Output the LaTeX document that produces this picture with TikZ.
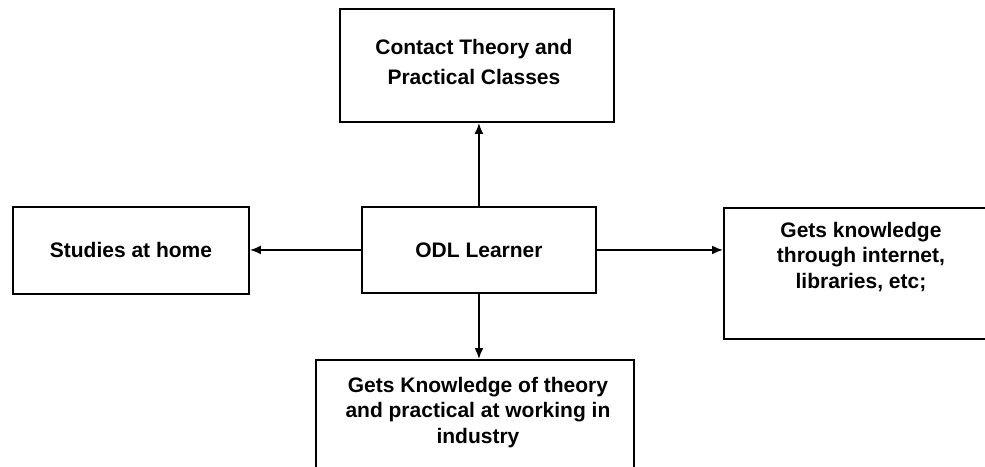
\documentclass[tikz,border=0pt]{standalone}
\usepackage{fontspec}
\setmainfont{Liberation Sans}
\usetikzlibrary{positioning,arrows.meta}

\begin{document}
\begin{tikzpicture}[
x=1pt,y=-1pt,
box/.style={
  draw,
  line width=1.9pt,
  inner sep=0pt,
  anchor=north west,
  align=center,
  font=\bfseries\fontsize{21}{25.5}\selectfont
  },
boxtext/.style={
  inner sep=0pt,
  align=center,
  font=\bfseries\fontsize{21}{25.5}\selectfont
  },
link/.style={
  -{Latex[length=11pt,width=9pt]},
  line width=1.9pt
  }
]
\useasboundingbox (0,0) rectangle (985,466);
\clip (0,0) rectangle (985,466);

% boxes
\node[box, minimum width=274pt, minimum height=113pt] (contact) at (339,8) {};
\node[box, minimum width=236pt, minimum height=87pt] (home) at (12,206) {Studies at home};
\node[box, minimum width=234pt, minimum height=86pt] (odl) at (361,206) {ODL Learner};
\node[box, minimum width=274pt, minimum height=131pt] (net) at (723,207) {};
\node[box, minimum width=318pt, minimum height=140pt] (industry) at (315,359) {};

% texts near the top of the boxes
\node[boxtext, font=\bfseries\fontsize{21}{30}\selectfont, below=31pt of contact.north, xshift=-3pt] (contacttext)
  {Contact Theory and\\Practical Classes};
\node[boxtext, below=15pt of net.north] (nettext)
  {Gets knowledge\\through internet,\\libraries, etc;};
\node[boxtext, below=18pt of industry.north, xshift=3pt] (industrytext)
  {Gets Knowledge of theory\\and practical at working in\\industry};

% arrows out of the learner
\foreach \a/\b/\c in {north/contact/south,south/industry/north}
  \draw[link] (odl.\a) -- (odl.\a |- \b.\c);
\foreach \a/\b/\c in {west/home/east,east/net/west}
  \draw[link] (odl.\a) -- (odl.\a -| \b.\c);

\end{tikzpicture}
\end{document}
